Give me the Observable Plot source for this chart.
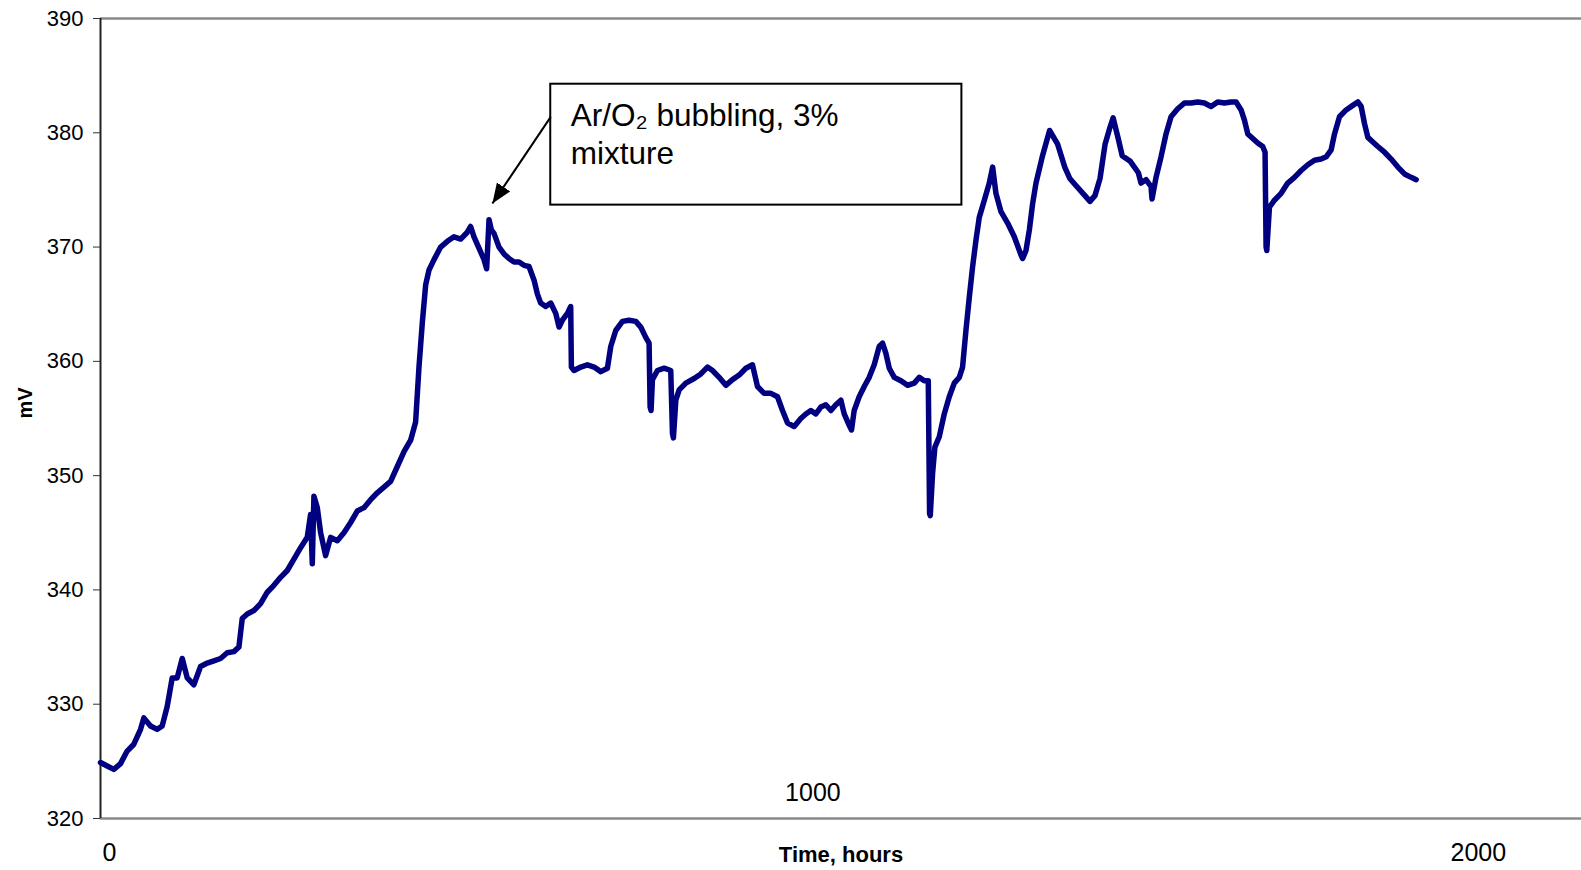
<!DOCTYPE html>
<html>
<head>
<meta charset="utf-8">
<script src="https://cdn.jsdelivr.net/npm/d3@7"></script>
<script src="https://cdn.jsdelivr.net/npm/@observablehq/plot@0.6"></script>
<style>
  html, body { margin: 0; padding: 0; background: #fff; }
  #chart { width: 1581px; height: 870px; }
</style>
</head>
<body>
<div id="chart"></div>
<script>
// ---- data ----
const hours = [
  0, 9.8, 19.5, 29.3, 39.0, 48.8, 58.6, 63.4, 73.2, 83.0, 90.3, 97.6, 104.9, 112.2, 119.6, 126.9, 136.6, 146.4, 156.2, 165.9,
  175.7, 185.4, 195.2, 202.5, 207.4, 214.7, 224.5, 234.2, 244.0, 253.7, 263.5, 273.3, 283.0, 292.8, 302.5, 307.4, 309.9, 312.3,
  317.2, 322.1, 329.4, 336.7, 346.5, 356.2, 366.0, 375.7, 385.5, 395.3, 405.0, 414.8, 424.5, 434.3, 444.1, 453.8, 461.1, 466.0,
  470.9, 475.8, 480.7, 488.0,
  497.7, 507.5, 517.2, 527.0, 536.7, 541.6, 546.5, 553.8, 561.2, 565.0, 568.5, 571.9, 575.8, 583.1, 590.4, 597.7, 605.1, 612.4,
  619.7, 627.0, 634.4, 639.2, 644.1, 651.4, 658.8, 666.1, 671.0, 675.8, 683.2, 688.0, 689.0, 692.9, 702.7, 712.4, 722.2, 732.0,
  741.7, 746.6, 753.9, 763.7, 773.4, 783.2, 790.5, 797.8, 802.7, 804.2, 805.6, 807.6, 814.9, 824.7, 834.4, 836.9, 838.3, 841.8,
  846.7, 856.4, 868.6, 878.4, 888.1, 895.5, 905.2, 915.0, 924.7, 934.5, 944.3, 954.0, 961.3, 971.1, 980.9, 990.6, 997.9, 1005.3,
  1015.0,
  1024.7, 1032.1, 1039.4, 1046.7, 1054.0, 1061.3, 1068.7, 1076.0, 1083.3, 1088.2, 1095.5, 1098.9, 1102.8, 1110.1, 1117.5, 1124.8,
  1132.1, 1139.4, 1144.3, 1149.2, 1154.1, 1161.4, 1171.2, 1180.9, 1190.7, 1198.0, 1205.3, 1211.2, 1213.1, 1214.1, 1217.5, 1220.9,
  1227.3, 1234.6, 1241.9, 1249.2, 1256.6, 1261.4, 1266.3, 1271.2, 1276.1, 1281.0, 1285.8, 1293.2, 1300.5, 1305.4, 1310.2, 1317.6,
  1327.3, 1337.1, 1346.9, 1349.3, 1354.2, 1359.1, 1363.9, 1368.8,
  1378.4, 1388.7, 1400.5, 1410.9, 1418.3, 1425.6, 1440.4, 1447.8, 1455.1, 1462.5, 1469.9, 1477.2, 1481.7, 1489.1, 1494.9, 1506.8,
  1518.6,
  1522.5, 1529.8, 1537.1, 1538.6, 1544.5, 1551.8, 1559.1, 1566.4, 1576.2, 1585.9, 1595.7, 1605.5, 1615.2, 1625.0, 1634.7, 1644.5,
  1654.3, 1661.6, 1668.9, 1673.8, 1678.7, 1686.0, 1693.3, 1700.6, 1704.0, 1705.5, 1706.5, 1710.4, 1717.7, 1727.5, 1737.2, 1747.0,
  1756.8, 1766.5, 1776.3, 1786.0, 1793.4, 1800.7, 1805.6, 1812.9, 1822.6, 1832.4, 1839.7, 1844.6, 1849.5, 1854.4, 1861.7, 1869.0,
  1878.8, 1888.5, 1898.3, 1908.0, 1917.8, 1925.1
];
const millivolts = [
  324.9, 324.6, 324.3, 324.8, 325.9, 326.5, 327.8, 328.8, 328.1, 327.8, 328.1, 329.8, 332.3, 332.3, 334.0, 332.3, 331.7, 333.3, 333.6, 333.8,
  334.0, 334.5, 334.6, 335.0, 337.5, 337.9, 338.2, 338.8, 339.8, 340.4, 341.1, 341.7, 342.7, 343.7, 344.6, 346.6, 342.3, 348.2,
  347.2, 345.0, 343.0, 344.6, 344.3, 345.0, 345.9, 346.9, 347.2, 347.9, 348.5, 349.0, 349.5, 350.8, 352.1, 353.1, 354.7, 359.5,
  363.4, 366.7, 368.0, 368.9,
  370.0, 370.5, 370.9, 370.7, 371.3, 371.8, 370.9, 369.9, 368.9, 368.1, 372.4, 371.5, 371.2, 370.0, 369.4, 369.0, 368.7, 368.7,
  368.4, 368.3, 367.1, 365.9, 365.1, 364.8, 365.1, 364.2, 363.0, 363.6, 364.2, 364.8, 359.5, 359.2, 359.5, 359.7, 359.5, 359.1,
  359.4, 361.3, 362.7, 363.5, 363.6, 363.5, 363.0, 362.1, 361.6, 356.0, 355.7, 358.4, 359.2, 359.4, 359.2, 353.7, 353.3, 356.6,
  357.5, 358.1, 358.5, 358.9, 359.5, 359.2, 358.6, 357.9, 358.4, 358.8, 359.4, 359.7, 357.8, 357.2, 357.2, 356.9, 355.7, 354.6,
  354.3,
  355.0, 355.4, 355.7, 355.4, 356.0, 356.2, 355.7, 356.2, 356.6, 355.4, 354.4, 354.0, 355.7, 356.9, 357.8, 358.6,
  359.7, 361.3, 361.6, 360.7, 359.4, 358.6, 358.3, 357.9, 358.1, 358.6, 358.3, 358.3, 346.7, 346.5, 350.2, 352.5,
  353.4, 355.4, 356.9, 358.1, 358.6, 359.5, 362.7, 365.6, 368.3, 370.6, 372.6, 374.1, 375.6, 377.0, 374.7, 373.1,
  372.1, 370.9, 369.3, 369.0, 369.7, 371.5, 373.8, 375.6,
  378.0, 380.2, 379.0, 377.0, 376.0, 375.5, 374.5, 374.0, 374.5, 376.0, 379.0, 380.5, 381.3, 379.5, 378.0, 377.5,
  376.5,
  375.6, 375.9, 375.3, 374.2, 376.1, 377.9, 379.9, 381.4, 382.1, 382.6, 382.6, 382.7, 382.6, 382.3, 382.7, 382.6,
  382.7, 382.7, 382.0, 381.1, 379.9, 379.5, 379.1, 378.8, 378.3, 370.0, 369.7, 373.5, 374.1, 374.7, 375.6, 376.1,
  376.7, 377.2, 377.6, 377.7, 377.9, 378.5, 379.9, 381.4, 382.0, 382.4, 382.7, 382.3, 380.8, 379.6, 379.2, 378.8,
  378.3, 377.7, 377.0, 376.4, 376.1, 375.9
];
const yTicks = [320, 330, 340, 350, 360, 370, 380, 390];
const xTicks = [0, 1000, 2000];
const xLabel = "Time, hours";
const yLabel = "mV";
const annotationLines = ["Ar/O\u2082 bubbling, 3%", "mixture"];
// annotation box and arrow, in data units (hours, mV)
const annotationBox = [{x1: 658.8, x2: 1260.4, y1: 373.67, y2: 384.25}];
const annotationAnchor = [{x: 688.0, y: 382.92}];
const annotationArrow = [{x1: 658.8, y1: 381.39, x2: 573.4, y2: 373.81}];

const data = hours.map((h, i) => ({hours: h, mV: millivolts[i]}));
const fmt = d => String(d);

const chart = Plot.plot({
  width: 1581,
  height: 870,
  marginLeft: 100,
  marginRight: 0,
  marginTop: 18,
  marginBottom: 52,
  style: {fontFamily: "'Liberation Sans', Arial, Helvetica, sans-serif", background: "#fff", color: "#000", overflow: "visible"},
  x: {domain: [0, 2167]},
  y: {domain: [320, 390]},
  marks: [
    Plot.ruleY([390], {stroke: "#8a8a8a", strokeWidth: 2.5}),
    Plot.ruleY([320], {stroke: "#8a8a8a", strokeWidth: 2.5}),
    Plot.ruleX([0], {stroke: "#222", strokeWidth: 2}),
    Plot.axisY(yTicks, {tickSize: 7, tickPadding: 10, fontSize: 22, stroke: "#333", tickFormat: fmt, label: null}),
    Plot.axisX([xTicks[0]], {tickSize: 0, tickPadding: 25, fontSize: 25, dx: 9, tickFormat: fmt, label: null}),
    Plot.axisX([xTicks[1]], {tickSize: 0, tickPadding: -35, fontSize: 25, dx: 29, tickFormat: fmt, label: null}),
    Plot.axisX([xTicks[2]], {tickSize: 0, tickPadding: 25, fontSize: 25, dx: 11, tickFormat: fmt, label: null}),
    Plot.text([yLabel], {text: d => d, frameAnchor: "left", dx: -75, rotate: -90, fontSize: 20, fontWeight: "bold"}),
    Plot.text([xLabel], {text: d => d, frameAnchor: "bottom", dy: 43, fontSize: 22, fontWeight: "bold"}),
    Plot.line(data, {x: "hours", y: "mV", stroke: "#000080", strokeWidth: 5.5, strokeLinejoin: "round", strokeLinecap: "round"}),
    Plot.rect(annotationBox, {x1: "x1", x2: "x2", y1: "y1", y2: "y2", fill: "white", stroke: "black", strokeWidth: 2}),
    Plot.text(annotationAnchor, {x: "x", y: "y", text: () => annotationLines.join("\n"), textAnchor: "start", lineAnchor: "top", fontSize: 31.5, lineHeight: 1.2, fill: "black"}),
    Plot.link(annotationArrow, {x1: "x1", y1: "y1", x2: "x2", y2: "y2", stroke: "black", strokeWidth: 2, markerEnd: "arrow"})
  ]
});

// filled arrow head like the reference
chart.querySelectorAll("marker").forEach(m => {
  m.setAttribute("viewBox", "-10 -5 10 10");
  m.setAttribute("markerUnits", "userSpaceOnUse");
  m.setAttribute("markerWidth", "20");
  m.setAttribute("markerHeight", "20");
  m.setAttribute("refX", "0");
  m.setAttribute("refY", "0");
  while (m.firstChild) m.removeChild(m.firstChild);
  const p = document.createElementNS("http://www.w3.org/2000/svg", "path");
  p.setAttribute("d", "M-10,-4L0,0L-10,4Z");
  p.setAttribute("fill", "black");
  p.setAttribute("stroke", "none");
  m.appendChild(p);
});

document.getElementById("chart").appendChild(chart);
</script>
</body>
</html>
